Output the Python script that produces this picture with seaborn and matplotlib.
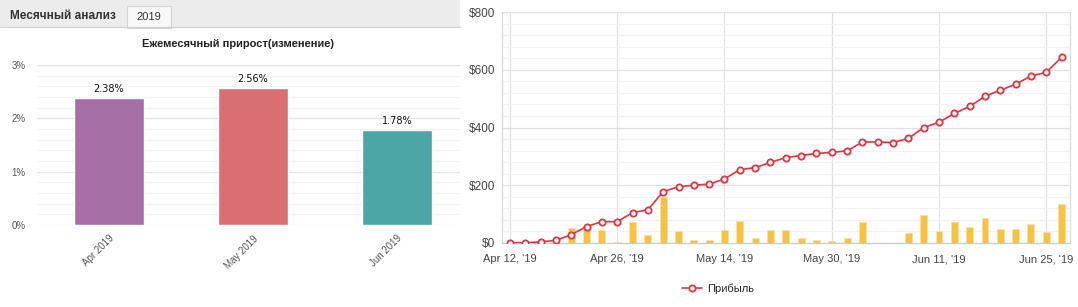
import seaborn as sns
import pandas as pd
import matplotlib.pyplot as plt
from matplotlib.patches import Rectangle
from matplotlib.ticker import FuncFormatter, MultipleLocator
from matplotlib.lines import Line2D

# данные: месячный прирост
months = ['Apr 2019', 'May 2019', 'Jun 2019']
growth = [2.38, 2.56, 1.78]
month_colors = ['#a670a6', '#d96f72', '#4ca6a6']

# данные: прибыль (накопленная) и дневные столбцы
profit = [1, 1, 4, 9, 29, 57, 74, 74, 105, 115, 178, 195, 200, 204, 222, 254,
          261, 279, 296, 303, 310, 314, 319, 350, 350, 348, 362, 400, 418, 449,
          473, 508, 529, 550, 578, 591, 643]
daily = [0, 0, 0, 4, 51, 57, 44, 4, 72, 27, 159, 42, 10, 10, 44, 75,
         17, 44, 44, 17, 12, 6, 17, 72, 0, 0, 33, 96, 43, 71,
         57, 85, 50, 47, 66, 37, 134]
date_labels = ["Apr 12, '19", "Apr 26, '19", "May 14, '19",
               "May 30, '19", "Jun 11, '19", "Jun 25, '19"]
date_ticks = [0, 7, 14, 21, 28, 35]

sns.set_theme(style="white")
plt.rcParams['font.family'] = ['Liberation Sans', 'DejaVu Sans']

fig = plt.figure(figsize=(10.78, 3.07), dpi=100)
W, H = 1078, 307

# --- шапка левой панели
fig.patches.append(Rectangle((0, 1 - 27 / H), 460 / W, 27 / H, transform=fig.transFigure,
                             facecolor='#ececec', edgecolor='none', zorder=0))
fig.lines.append(Line2D([0, 460 / W], [1 - 27 / H] * 2, transform=fig.transFigure,
                        color='#d2d2d2', lw=0.8))
fig.patches.append(Rectangle((127 / W, 1 - 27.5 / H), 44 / W, 21.5 / H, transform=fig.transFigure,
                             facecolor='#f8f8f8', edgecolor='#d4d4d4', lw=0.8, zorder=1))
fig.text(10 / W, 1 - 16 / H, 'Месячный анализ', fontsize=8.5, fontweight='bold',
         color='#333333', va='center')
fig.text(149 / W, 1 - 17 / H, '2019', fontsize=8, color='#333333', va='center', ha='center')
fig.text(238 / W, 1 - 44 / H, 'Ежемесячный прирост(изменение)', fontsize=8,
         fontweight='bold', color='#222222', va='center', ha='center')

# --- левый график
ax1 = fig.add_axes([37 / W, 1 - 225 / H, 423 / W, 160 / H])
df1 = pd.DataFrame({'month': months, 'growth': growth})
sns.barplot(data=df1, x='month', y='growth', hue='month', palette=month_colors,
            saturation=1, legend=False, width=0.486, ax=ax1, zorder=3)
ax1.set_xlim(-0.5, 2.4375)
ax1.set_ylim(0, 3)
ax1.yaxis.set_major_locator(MultipleLocator(1))
ax1.yaxis.set_minor_locator(MultipleLocator(0.2))
ax1.yaxis.set_major_formatter(FuncFormatter(lambda v, p: f'{v:.0f}%'))
ax1.grid(axis='y', which='major', color='#e4e4e4', lw=0.9, zorder=0)
ax1.grid(axis='y', which='minor', color='#f3f3f3', lw=0.9, zorder=0)
ax1.set_axisbelow(True)
for s in ax1.spines.values():
    s.set_visible(False)
ax1.set_xlabel('')
ax1.set_ylabel('')
ax1.tick_params(axis='y', length=0, labelsize=7, labelcolor='#555555', pad=8)
ax1.tick_params(axis='x', length=0, labelsize=7, labelcolor='#555555', pad=6)
plt.setp(ax1.get_xticklabels(), rotation=45, ha='right', rotation_mode='anchor')
for i, v in enumerate(growth):
    ax1.annotate(f'{v:.2f}%', (i, v), xytext=(0, 3), textcoords='offset points',
                 ha='center', va='bottom', fontsize=7, color='#111111',
                 family='DejaVu Sans')

# --- правый график
ax2 = fig.add_axes([502.3 / W, 1 - 243 / H, 567.7 / W, 231 / H])
df2 = pd.DataFrame({'idx': range(len(profit)), 'profit': profit, 'daily': daily})
sns.barplot(data=df2, x='idx', y='daily', native_scale=True, width=0.45,
            color='#f5c242', edgecolor='#fbe2a2', linewidth=0.6, saturation=1,
            ax=ax2, zorder=2)
sns.lineplot(data=df2, x='idx', y='profit', color='#e5323d', lw=1.2, marker='o',
             markersize=4.5, markerfacecolor='white', markeredgecolor='#e5323d',
             markeredgewidth=1.3, ax=ax2, zorder=4, label='Прибыль', legend=False)
ax2.set_xlim(-0.5, 36.55)
ax2.set_ylim(0, 800)
ax2.set_xticks(date_ticks)
ax2.set_xticklabels(date_labels)
ax2.yaxis.set_major_locator(MultipleLocator(200))
ax2.yaxis.set_minor_locator(MultipleLocator(40))
ax2.yaxis.set_major_formatter(FuncFormatter(lambda v, p: f'${v:.0f}'))
ax2.grid(axis='y', which='major', color='#e0e0e0', lw=0.9, zorder=0)
ax2.grid(axis='y', which='minor', color='#f2f2f2', lw=0.9, zorder=0)
ax2.grid(axis='x', which='major', color='#e0e0e0', lw=0.9, zorder=0)
ax2.set_axisbelow(True)
ax2.set_xlabel('')
ax2.set_ylabel('')
ax2.spines['top'].set_visible(False)
ax2.spines['left'].set_color('#d8d8d8')
ax2.spines['right'].set_color('#dddddd')
ax2.spines['bottom'].set_color('#c3cbe0')
for s in ax2.spines.values():
    s.set_linewidth(0.9)
ax2.tick_params(axis='y', length=0, labelsize=8.5, labelcolor='#444444', pad=5)
ax2.tick_params(axis='x', length=0, labelsize=8, labelcolor='#444444', pad=8)

handle = Line2D([], [], color='#e5323d', lw=1.2, marker='o', markersize=4.5,
                markerfacecolor='white', markeredgecolor='#e5323d', markeredgewidth=1.3)
fig.legend([handle], ['Прибыль'], loc='center', bbox_to_anchor=(718 / W, 1 - 289 / H),
           frameon=False, fontsize=8, handlelength=1.8, handletextpad=0.5)

fig.savefig('out.png', dpi=100)
